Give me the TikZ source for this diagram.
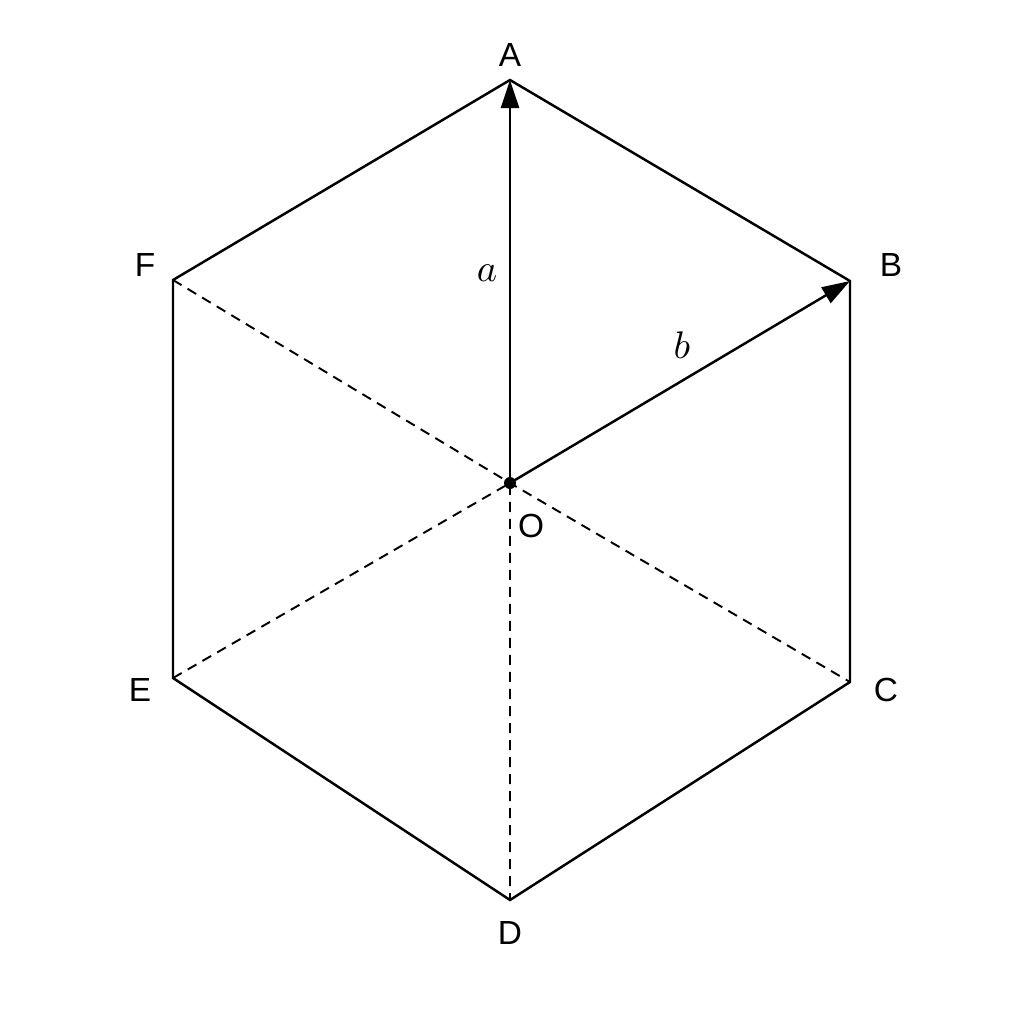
\documentclass[tikz,border=0pt]{standalone}
\usepackage{fontspec}
\setsansfont{Liberation Sans}
\usetikzlibrary{arrows.meta}
\tikzset{
  vlabel/.style={font=\sffamily\fontsize{9.5}{11}\selectfont, inner sep=0pt},
  veclabel/.style={font=\fontsize{11}{13}\selectfont, inner sep=0pt},
  edge/.style={line width=0.7pt},
  diag/.style={line width=0.55pt, dash pattern=on 1mm off 0.7mm},
  vec/.style={line width=0.7pt, -{Triangle[length=2.8mm,width=1.8mm]}}
}
\begin{document}
\begin{tikzpicture}[x=0.01cm,y=-0.01cm]
		\useasboundingbox (0,0) rectangle (1024,1024);
		% vertices
		\coordinate (A) at (510,80);
		\coordinate (B) at (850,281);
		\coordinate (C) at (850,682);
		\coordinate (D) at (510,900);
		\coordinate (E) at (173,678);
		\coordinate (F) at (173,280);
		\coordinate (O) at (510,483);
		% hexagon
		\draw[edge, line join=miter] (A)--(B)--(C)--(D)--(E)--(F)--cycle;
		% dashed diagonals
		\draw[diag] (F)--(O)--(C);
		\draw[diag] (E)--(O)--(D);
		% vectors
		\draw[vec] (O)--(A);
		\draw[vec] (O)--(B);
		\fill (O) circle (6);
		% labels
		\node[vlabel] (lA) at (510,55) {A};
		\node[vlabel] (lB) at (891,265) {B};
		\node[vlabel] (lC) at (886,690) {C};
		\node[vlabel] (lD) at (510,933) {D};
		\node[vlabel] (lE) at (140,690) {E};
		\node[vlabel] (lF) at (145,265) {F};
		\node[vlabel] (lO) at (531,526) {O};
		\node[veclabel] (la) at (487,273) {$a$};
		\node[veclabel] (lb) at (682,345) {$b$};
	\end{tikzpicture}
\end{document}
